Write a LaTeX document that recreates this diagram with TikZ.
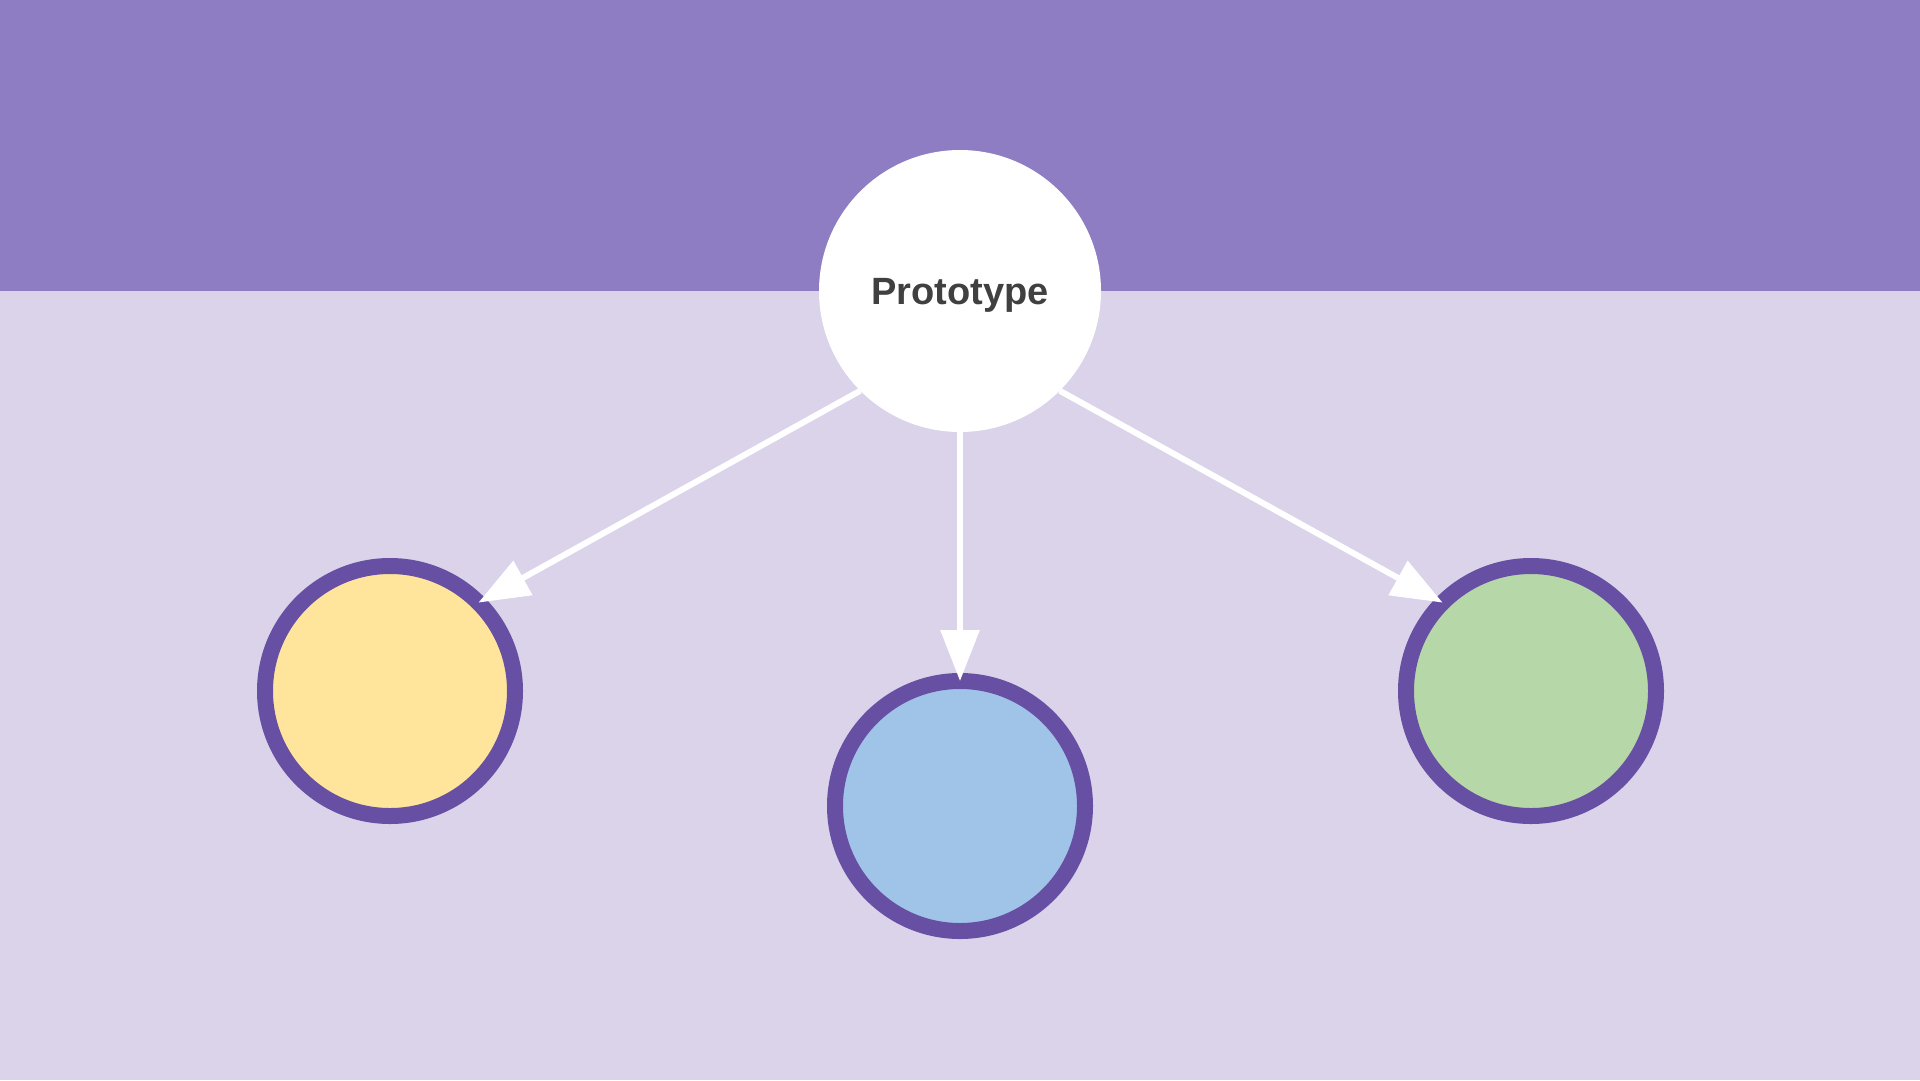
\documentclass[tikz,border=0pt]{standalone}
\usepackage{fontspec}
\setmainfont{Liberation Sans}
\usetikzlibrary{arrows.meta}
\definecolor{band}{HTML}{8E7DC2}
\definecolor{bgl}{HTML}{DAD3EA}
\definecolor{ring}{HTML}{6750A4}
\definecolor{cyel}{HTML}{FFE59B}
\definecolor{cblu}{HTML}{A0C4E8}
\definecolor{cgrn}{HTML}{B6D7A8}
\definecolor{txt}{HTML}{404040}
\tikzset{
  leaf/.style={circle, draw=ring, line width=16pt, minimum size=250pt, inner sep=0pt, outer sep=0pt},
  hub/.style={circle, fill=white, minimum size=282pt, inner sep=0pt, outer sep=0pt, text=txt,
    text height=27pt, text depth=0pt,
    font=\fontsize{38}{40}\selectfont\bfseries},
  link/.style={draw=white, line width=6pt, -{Triangle[width=38pt,length=51pt]}}
}
\begin{document}
\begin{tikzpicture}[x=1pt,y=-1pt]
\fill[bgl] (0,0) rectangle (1920,1080);
\fill[band] (0,0) rectangle (1920,291);
\useasboundingbox (0,0) rectangle (1920,1080);
\node[hub] (proto) at (960,291) {Prototype};
\node[leaf, fill=cyel] (yel) at (390,691) {};
\node[leaf, fill=cblu] (blu) at (960,806) {};
\node[leaf, fill=cgrn] (grn) at (1531,691) {};
\draw[link] (proto.south west) -- (yel.north east);
\draw[link] (proto.south) -- (blu.north);
\draw[link] (proto.south east) -- (grn.north west);
\end{tikzpicture}
\end{document}
